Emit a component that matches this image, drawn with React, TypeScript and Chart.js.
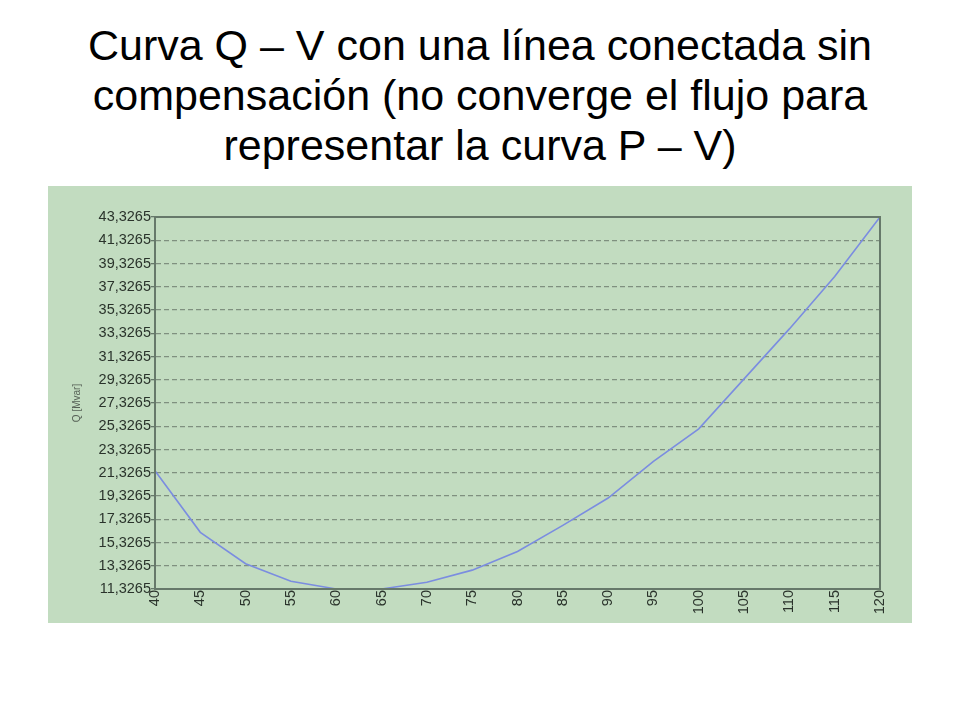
import { useEffect, useRef } from "react";
import { Chart, registerables } from "chart.js";

Chart.register(...registerables);

// V axis categories (step 5)
const voltages = ["40", "45", "50", "55", "60", "65", "70", "75", "80", "85", "90", "95", "100", "105", "110", "115", "120"];
// Q [Mvar]
const reactive = [21.5, 16.2, 13.5, 12.0, 11.33, 11.33, 11.9, 12.95, 14.55, 16.8, 19.15, 22.3, 25.1, 29.4, 33.7, 38.2, 43.3265];
// y tick values as printed on the axis
const yTicks = [11.3265, 13.3265, 15.3265, 17.3265, 19.3265, 21.3265, 23.3265, 25.3265, 27.3265, 29.3265, 31.3265, 33.3265, 35.3265, 37.3265, 39.3265, 41.3265, 43.3265];

const titleLines = [
  "Curva Q – V con una línea conectada sin",
  "compensación (no converge el flujo para",
  "representar la curva P – V)",
];

const FRAME = "#66796a";
const LABEL = "#2a332b";

const framePlugin = {
  id: "frame",
  afterDraw(chart: any) {
    const { ctx, chartArea } = chart;
    ctx.save();
    ctx.strokeStyle = FRAME;
    ctx.lineWidth = 2;
    ctx.strokeRect(chartArea.left, chartArea.top, chartArea.right - chartArea.left, chartArea.bottom - chartArea.top);
    ctx.restore();
  },
};

function QVChart() {
  const chartRef = useRef<HTMLCanvasElement>(null);
  const chartInstanceRef = useRef<Chart | null>(null);

  useEffect(() => {
    if (!chartRef.current) return;
    if (chartInstanceRef.current) chartInstanceRef.current.destroy();

    chartInstanceRef.current = new Chart(chartRef.current, {
      type: "line",
      data: {
        labels: voltages,
        datasets: [
          {
            label: "Q",
            data: reactive,
            borderColor: "#7b8de0",
            borderWidth: 1.6,
            pointRadius: 0,
            tension: 0,
            fill: false,
          },
        ],
      },
      options: {
        responsive: true,
        maintainAspectRatio: false,
        animation: false,
        layout: { padding: { top: 31, right: 32, left: 0, bottom: 0 } },
        plugins: {
          legend: { display: false },
          tooltip: { enabled: false },
        },
        scales: {
          x: {
            offset: false,
            grid: { display: false, drawTicks: false },
            border: { display: true, color: FRAME, width: 2 },
            ticks: {
              color: LABEL,
              font: { family: "Liberation Sans, Arial", size: 14.5 },
              maxRotation: 90,
              minRotation: 90,
              autoSkip: false,
              padding: 1,
            },
            afterFit: (scale: any) => {
              scale.height = 34;
            },
          },
          y: {
            min: 11.3265,
            max: 43.3265,
            afterBuildTicks: (scale: any) => {
              scale.ticks = yTicks.map((v) => ({ value: v }));
            },
            grid: {
              color: "#7f907f",
              lineWidth: 1.3,
              tickLength: 4,
              tickColor: FRAME,
            },
            border: { display: true, color: FRAME, width: 2, dash: [5, 3] },
            ticks: {
              color: LABEL,
              font: { family: "Liberation Sans, Arial", size: 14.5 },
              padding: 0,
              callback: (v: any) => Number(v).toFixed(4).replace(".", ","),
            },
            title: {
              display: true,
              text: "Q [Mvar]",
              color: "#555f55",
              font: { family: "Liberation Sans, Arial", size: 10 },
              padding: { top: 23, bottom: 0 },
            },
            afterFit: (scale: any) => {
              scale.width = 107;
            },
          },
        },
      },
      plugins: [framePlugin],
    });

    return () => {
      if (chartInstanceRef.current) {
        chartInstanceRef.current.destroy();
        chartInstanceRef.current = null;
      }
    };
  }, []);

  return (
    <div style={{ position: "absolute", left: 48, top: 186, width: 864, height: 437, background: "#c2dcc0" }}>
      <canvas ref={chartRef} />
    </div>
  );
}

export default function App() {
  useEffect(() => {
    document.body.style.margin = "0";
  }, []);

  return (
    <div style={{ position: "relative", width: 960, height: 720, background: "#ffffff", overflow: "hidden" }}>
      <div
        style={{
          position: "absolute",
          top: 20,
          left: 0,
          width: 960,
          textAlign: "center",
          fontFamily: "Liberation Sans, Arial, sans-serif",
          fontSize: 43,
          lineHeight: "50px",
          color: "#000",
        }}
      >
        {titleLines.map((line) => (
          <div key={line} style={{ whiteSpace: "nowrap" }}>
            {line}
          </div>
        ))}
      </div>
      <QVChart />
    </div>
  );
}
